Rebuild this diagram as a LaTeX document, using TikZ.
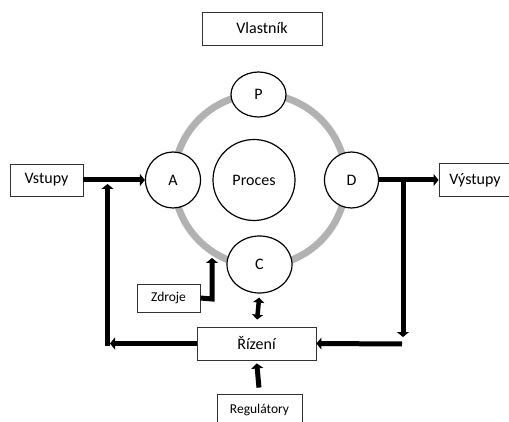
\documentclass[tikz,border=0pt]{standalone}
\usepackage{fontspec}
\setmainfont{Carlito}
\usetikzlibrary{arrows.meta,shapes.geometric}
\begin{document}
\begin{tikzpicture}[x=1pt,y=-1pt,
  box/.style={draw=black!80,line width=0.9pt,fill=white,inner sep=0pt,
              font=\fontsize{16}{18}\selectfont},
  smallbox/.style={box,font=\fontsize{13.5}{15}\selectfont},
  role/.style={draw=black,line width=1.2pt,fill=white,ellipse,inner sep=0pt,
               font=\fontsize{16}{18}\selectfont},
  flow/.style={line width=5pt,-{Triangle[length=5pt,width=12pt]}},
  bothflow/.style={line width=4.5pt,{Triangle[length=5pt,width=11pt]}-{Triangle[length=5pt,width=11pt]}},
  ring/.style={line width=7pt,draw=black!30}]
\useasboundingbox (0,0) rectangle (509,422);

% lifecycle ring behind the role circles
\draw[ring] (260,180) circle[radius=86];

% roles and the process
\node[role,minimum width=55,minimum height=45] (P) at (258.5,94.5) {P};
\node[role,minimum width=55,minimum height=56] (A) at (173,180) {A};
\node[role,minimum width=54,minimum height=56] (D) at (351.5,180) {D};
\node[role,minimum width=65,minimum height=57] (C) at (259.5,264.5) {C};
\node[role,minimum width=82,minimum height=81] (proc) at (254,180) {Proces};

% boxes
\node[box,minimum width=120,minimum height=33] (owner) at (262,28.5) {Vlastník};
\node[box,minimum width=73,minimum height=32] (in) at (46.5,180) {Vstupy};
\node[box,minimum width=72,minimum height=33] (out) at (475,180) {Výstupy};
\node[box,minimum width=119,minimum height=33] (ctrl) at (256.5,343.5) {Řízení};
\node[smallbox,minimum width=63,minimum height=28] (res) at (168.5,298) {Zdroje};
\node[smallbox,minimum width=85,minimum height=32] (reg) at (259.5,410) {Regulátory};

% junction points of the feedback loops
\coordinate (outsplit) at (403,180);
\coordinate (outdown) at (403,337);
\coordinate (backin) at (402,344);
\coordinate (loopend) at (110,343.5);
\coordinate (loopcorner) at (107.5,346);
\coordinate (loopup) at (107.5,184);
\coordinate (rescorner) at (212,299);
\coordinate (restip) at (212,258);

% main flow
\draw[flow] (in.east) -- (A.west);
\draw[flow] (D.east) -- (out.west);

% output feedback into control
\draw[flow] (outsplit) -- (outdown);
\draw[flow] (backin) -- (ctrl.east);

% control feedback into inputs
\draw[flow] (ctrl.west) -- (loopend);
\draw[flow] (loopcorner) -- (loopup);

% resources
\draw[flow,line join=miter] (res.east) -- (rescorner) -- (restip);

% control <-> C
\draw[bothflow,shorten <=4pt,shorten >=7pt] (C.south) -- (ctrl.north);

% regulators
\draw[flow,shorten <=6pt,shorten >=3pt] (reg.north) -- (ctrl.south);
\end{tikzpicture}
\end{document}
